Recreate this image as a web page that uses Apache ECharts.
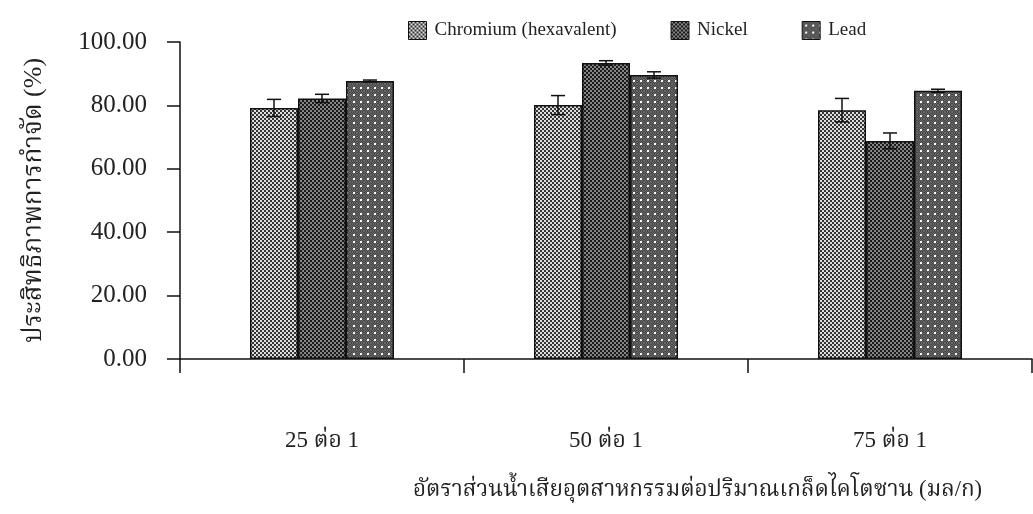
<!DOCTYPE html>
<html>
<head>
<meta charset="utf-8">
<script src="https://cdn.jsdelivr.net/npm/echarts@6/dist/echarts.min.js"></script>
<style>
html,body{margin:0;padding:0;background:#fff;}
#chart{width:1033px;height:514px;}
</style>
</head>
<body>
<div id="chart"></div>
<script>
const categories = ['25 ต่อ 1', '50 ต่อ 1', '75 ต่อ 1'];
const seriesNames = ['Chromium (hexavalent)', 'Nickel', 'Lead'];
const chromium = [79.2, 80.1, 78.5];
const nickel = [82.2, 93.4, 68.8];
const lead = [87.7, 89.6, 84.6];
const chromiumErr = [2.7, 3.0, 3.7];
const nickelErr = [1.3, 0.7, 2.5];
const leadErr = [0.3, 1.0, 0.5];
const yTicks = [0, 20, 40, 60, 80, 100];
const yAxisTitle = 'ประสิทธิภาพการกำจัด (%)';
const xAxisTitle = 'อัตราส่วนน้ำเสียอุตสาหกรรมต่อปริมาณเกล็ดไคโตซาน (มล/ก)';

function makePattern(kind) {
  const c = document.createElement('canvas');
  let ctx;
  if (kind === 'chromium') {
    c.width = 4; c.height = 4; ctx = c.getContext('2d');
    ctx.fillStyle = '#333333'; ctx.fillRect(0, 0, 4, 4);
    ctx.fillStyle = '#dedede'; ctx.fillRect(0, 0, 2, 2); ctx.fillRect(2, 2, 2, 2);
  } else if (kind === 'nickel') {
    c.width = 4; c.height = 4; ctx = c.getContext('2d');
    ctx.fillStyle = '#1a1a1a'; ctx.fillRect(0, 0, 4, 4);
    ctx.fillStyle = '#858585'; ctx.fillRect(0, 0, 2, 2); ctx.fillRect(2, 2, 2, 2);
  } else {
    c.width = 7; c.height = 7; ctx = c.getContext('2d');
    ctx.fillStyle = '#454545'; ctx.fillRect(0, 0, 7, 7);
    ctx.fillStyle = '#6a6a6a';
    for (let i = 0; i < 7; i++) for (let j = 0; j < 7; j++) if ((i + j) % 2 === 0) ctx.fillRect(i, j, 1, 1);
    ctx.fillStyle = '#ffffff'; ctx.fillRect(3, 3, 2, 2);
  }
  return { image: c, repeat: 'repeat' };
}

const patterns = [makePattern('chromium'), makePattern('nickel'), makePattern('lead')];
const values = [chromium, nickel, lead];
const errs = [chromiumErr, nickelErr, leadErr];
const BAR_W = 48;

const serifFont = '"Liberation Serif", "Times New Roman", serif';
const thaiFont = '"Liberation Serif", "Noto Serif Thai", "Noto Sans Thai", serif';

const series = [];
seriesNames.forEach((name, k) => {
  series.push({
    name: name,
    type: 'bar',
    data: values[k],
    barWidth: BAR_W,
    barGap: '0%',
    itemStyle: { color: patterns[k], borderColor: '#111', borderWidth: 1.5 },
    z: 2
  });
});
seriesNames.forEach((name, k) => {
  series.push({
    type: 'custom',
    name: name + ' err',
    data: values[k].map((v, i) => [i, v - errs[k][i], v + errs[k][i]]),
    z: 5,
    silent: true,
    renderItem: function (params, api) {
      const ci = api.value(0);
      const lo = api.coord([ci, api.value(1)]);
      const hi = api.coord([ci, api.value(2)]);
      const x = lo[0] + (k - 1) * BAR_W;
      const cap = 7;
      const st = { stroke: '#111', lineWidth: 1.5 };
      return {
        type: 'group',
        children: [
          { type: 'line', shape: { x1: x, y1: lo[1], x2: x, y2: hi[1] }, style: st },
          { type: 'line', shape: { x1: x - cap, y1: hi[1], x2: x + cap, y2: hi[1] }, style: st },
          { type: 'line', shape: { x1: x - cap, y1: lo[1], x2: x + cap, y2: lo[1] }, style: st }
        ]
      };
    }
  });
});

const chart = echarts.init(document.getElementById('chart'), null, { renderer: 'canvas' });
chart.setOption({
  animation: false,
  backgroundColor: '#ffffff',
  grid: { left: 180, right: 1, top: 42, bottom: 155, containLabel: false },
  legend: {
    data: seriesNames,
    left: 403, top: 16,
    icon: 'rect',
    itemWidth: 18, itemHeight: 18,
    itemGap: 54,
    itemStyle: { borderColor: '#111', borderWidth: 1 },
    textStyle: { fontFamily: serifFont, fontSize: 19, color: '#222', padding: [0, 0, 0, 3] }
  },
  xAxis: {
    type: 'category',
    data: categories,
    axisLine: { lineStyle: { color: '#111', width: 1.5 } },
    axisTick: { show: true, inside: false, length: 14, alignWithLabel: false, lineStyle: { color: '#111', width: 1.5 } },
    axisLabel: { margin: 70, fontFamily: thaiFont, fontSize: 23, color: '#222' },
    splitLine: { show: false }
  },
  yAxis: {
    type: 'value',
    min: yTicks[0], max: yTicks[yTicks.length - 1], interval: 20,
    name: yAxisTitle,
    nameLocation: 'middle',
    nameGap: 133,
    nameTextStyle: { fontFamily: thaiFont, fontSize: 26, color: '#222' },
    axisLine: { show: true, lineStyle: { color: '#111', width: 1.5 } },
    axisTick: { show: true, inside: false, length: 13, lineStyle: { color: '#111', width: 1.5 } },
    axisLabel: { margin: 33, fontFamily: serifFont, fontSize: 25, color: '#222', formatter: v => v.toFixed(2) },
    splitLine: { show: false }
  },
  graphic: [{
    type: 'text', left: 413, top: 479,
    style: { text: xAxisTitle, font: '22.5px ' + thaiFont, fill: '#222' }
  }],
  series: series
});
</script>
</body>
</html>
